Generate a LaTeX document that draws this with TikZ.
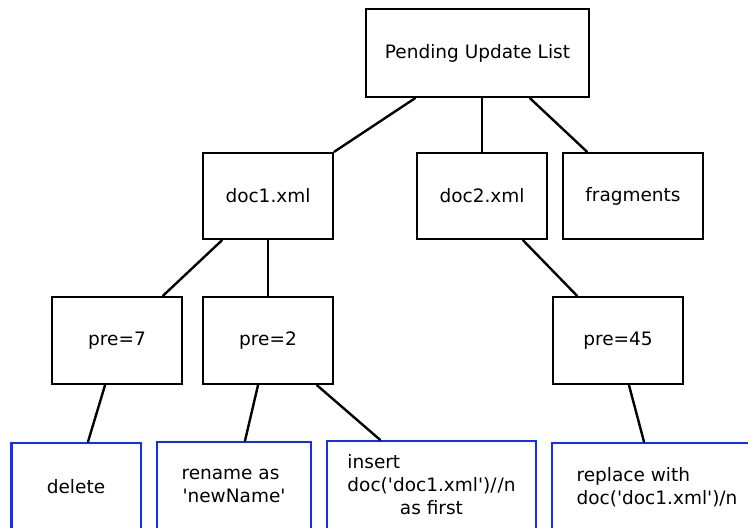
\documentclass[tikz,border=0pt]{standalone}
\usepackage{fontspec}
\setmainfont{DejaVu Sans}
\newcommand\qq{\textquotesingle}
\tikzset{
  box/.style={draw=black, line width=2.5pt, minimum width=130pt, minimum height=87pt, inner sep=0pt, align=center},
  opbox/.style={draw={rgb,255:red,20;green,45;blue,250}, line width=2.5pt, minimum height=88pt, inner sep=0pt},
  link/.style={line width=2.4pt, line cap=round}
}
\begin{document}
\begin{tikzpicture}[x=1pt,y=-1pt, font=\fontsize{18.5}{23}\selectfont]
\useasboundingbox (0,0) rectangle (748,528);
\clip (0,0) rectangle (748,528);
\fill[white] (0,0) rectangle (748,528);
\node[box, minimum width=223pt, minimum height=88pt] (pul) at (477.5,53) {Pending Update List};
\node[box, minimum height=86pt] (doc1) at (268,196) {doc1.xml};
\node[box, minimum height=86pt] (doc2) at (482,196) {doc2.xml};
\node[box, minimum width=140pt, minimum height=86pt] (frag) at (633,196) {fragments};
\node[box] (pre7) at (117,340.5) {pre=7};
\node[box] (pre2) at (268,340.5) {pre=2};
\node[box] (pre45) at (618,340.5) {pre=45};
\node[opbox, minimum width=129.5pt] (del) at (76,487) {delete};
\node[opbox, minimum width=154pt, align=center] (ren) at (234,486) {rename as\hspace*{7pt}\\ \qq newName\qq};
\node[opbox, minimum width=209pt, minimum height=91pt] (ins) at (431.5,486.5)
  {\renewcommand\arraystretch{1}\begin{tabular}{@{}c@{}}\multicolumn{1}{@{}l@{}}{insert}\\doc(\qq doc1.xml\qq)/\kern1pt/n\\as first\end{tabular}};
\node[opbox, minimum width=210pt, align=left] (rep) at (657,487) {replace with\\doc(\qq doc1.xml\qq)/n};
\draw[link] ([xshift=-62.5pt]pul.south) -- (doc1.north east);
\draw[link] (pul.south -| doc2.north) -- (doc2.north);
\draw[link] ([xshift=52.5pt]pul.south) -- ([xshift=-46pt]frag.north);
\draw[link] ([xshift=-46pt]doc1.south) -- ([xshift=46pt]pre7.north);
\draw[link] (doc1.south) -- (pre2.north);
\draw[link] ([xshift=41pt]doc2.south) -- ([xshift=-41pt]pre45.north);
\draw[link] ([xshift=-12pt]pre7.south) -- ([xshift=12pt]del.north);
\draw[link] ([xshift=-10pt]pre2.south) -- ([xshift=11pt]ren.north);
\draw[link] ([xshift=49pt]pre2.south) -- ([xshift=-51.5pt]ins.north);
\draw[link] ([xshift=11pt]pre45.south) -- ([xshift=-13pt]rep.north);
\end{tikzpicture}
\end{document}
